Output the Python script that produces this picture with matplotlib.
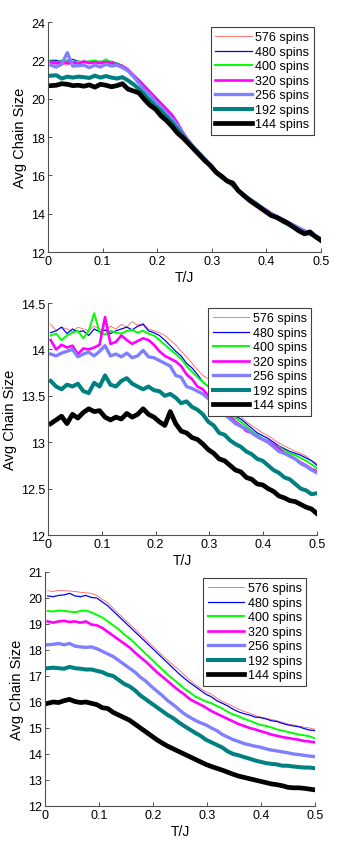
import numpy as np
import matplotlib
matplotlib.use('Agg')
import matplotlib.pyplot as plt

plt.rcParams['font.family'] = ['Liberation Sans', 'DejaVu Sans']

# temperature grid (T/J)
t = np.linspace(0.005, 0.5, 50)

labels = ['576 spins', '480 spins', '400 spins', '320 spins',
          '256 spins', '192 spins', '144 spins']

# ---- panel 1 ----
p1_576 = [21.85, 21.8, 21.8, 21.75, 21.85, 21.8, 21.85, 21.9, 21.85, 21.9,
          21.95, 21.9, 21.85, 21.72, 21.5, 21.2, 20.95, 20.65, 20.35, 20.05,
          19.75, 19.45, 19.15, 18.7, 18.2, 17.8, 17.45, 17.15, 16.85, 16.5,
          16.2, 15.95, 15.7, 15.45, 15.2, 14.95, 14.8, 14.6, 14.4, 14.2,
          14.0, 13.85, 13.7, 13.55, 13.4, 13.25, 13.1, 13.0, 12.85, 12.7]
p1_480 = [22.0, 22.0, 21.95, 22.0, 22.05, 21.95, 21.9, 21.95, 21.9, 21.95,
          21.9, 21.95, 21.85, 21.72, 21.5, 21.2, 20.95, 20.65, 20.35, 20.05,
          19.75, 19.45, 19.15, 18.7, 18.2, 17.8, 17.45, 17.15, 16.85, 16.5,
          16.2, 15.95, 15.7, 15.45, 15.2, 14.95, 14.8, 14.6, 14.4, 14.2,
          14.0, 13.85, 13.7, 13.55, 13.4, 13.25, 13.1, 13.0, 12.85, 12.7]
p1_400 = [21.95, 21.9, 22.0, 21.95, 21.9, 21.95, 21.9, 21.95, 22.0, 21.9,
          22.05, 21.9, 21.85, 21.72, 21.5, 21.2, 20.97, 20.67, 20.37, 20.05,
          19.77, 19.45, 19.17, 18.72, 18.22, 17.82, 17.47, 17.17, 16.87, 16.52,
          16.22, 15.97, 15.72, 15.47, 15.25, 15.0, 14.82, 14.62, 14.42, 14.22,
          14.03, 13.88, 13.73, 13.57, 13.42, 13.27, 13.12, 13.02, 12.87, 12.72]
p1_320 = [21.9, 21.85, 21.92, 21.85, 21.9, 21.82, 21.95, 21.85, 21.9, 21.85,
          21.92, 21.85, 21.8, 21.7, 21.52, 21.22, 20.95, 20.65, 20.35, 20.05,
          19.75, 19.45, 19.15, 18.72, 18.22, 17.82, 17.45, 17.15, 16.85, 16.5,
          16.2, 15.95, 15.7, 15.45, 15.22, 14.97, 14.8, 14.6, 14.4, 14.22,
          14.02, 13.87, 13.72, 13.55, 13.42, 13.27, 13.12, 13.0, 12.85, 12.7]
p1_256 = [21.75, 21.65, 21.8, 22.4, 21.7, 21.72, 21.75, 21.62, 21.75, 21.65,
          21.8, 21.7, 21.75, 21.62, 21.45, 21.15, 20.8, 20.45, 20.2, 19.85,
          19.55, 19.25, 18.95, 18.6, 18.15, 17.8, 17.45, 17.15, 16.85, 16.5,
          16.2, 15.95, 15.72, 15.48, 15.22, 15.0, 14.78, 14.58, 14.38, 14.18,
          13.98, 13.85, 13.7, 13.55, 13.4, 13.25, 13.1, 12.98, 12.85, 12.7]
p1_192 = [21.2, 21.22, 21.05, 21.15, 21.1, 21.15, 21.12, 21.08, 21.2, 21.1,
          21.18, 21.1, 21.05, 21.12, 20.95, 20.75, 20.5, 20.2, 19.9, 19.6,
          19.35, 19.05, 18.75, 18.4, 18.05, 17.7, 17.4, 17.1, 16.8, 16.45,
          16.15, 15.9, 15.7, 15.5, 15.2, 14.95, 14.75, 14.55, 14.35, 14.1,
          13.9, 13.8, 13.6, 13.45, 13.3, 13.15, 13.0, 12.95, 12.8, 12.65]
p1_144 = [20.68, 20.7, 20.78, 20.75, 20.68, 20.7, 20.65, 20.72, 20.6, 20.75,
          20.7, 20.62, 20.68, 20.78, 20.5, 20.4, 20.3, 19.95, 19.65, 19.45,
          19.1, 18.85, 18.55, 18.2, 17.95, 17.65, 17.35, 17.05, 16.75, 16.5,
          16.15, 15.95, 15.7, 15.6, 15.2, 14.95, 14.7, 14.5, 14.3, 14.1,
          13.9, 13.8, 13.65, 13.5, 13.3, 13.1, 12.95, 13.05, 12.8, 12.6]

# ---- panel 2 ----
p2_576 = [14.27, 14.2, 14.24, 14.22, 14.19, 14.24, 14.22, 14.2, 14.25, 14.22,
          14.2, 14.25, 14.22, 14.27, 14.24, 14.3, 14.26, 14.28, 14.22, 14.2,
          14.18, 14.15, 14.1, 14.05, 13.98, 13.92, 13.85, 13.78, 13.72, 13.68,
          13.58, 13.5, 13.45, 13.38, 13.32, 13.28, 13.22, 13.18, 13.14, 13.1,
          13.07, 13.03, 12.99, 12.96, 12.93, 12.9, 12.88, 12.85, 12.8, 12.77]
p2_480 = [14.18, 14.2, 14.24, 14.17, 14.22, 14.19, 14.2, 14.15, 14.22, 14.19,
          14.21, 14.17, 14.2, 14.22, 14.24, 14.21, 14.25, 14.27, 14.2, 14.18,
          14.15, 14.1, 14.04, 13.98, 13.93, 13.85, 13.8, 13.73, 13.65, 13.6,
          13.55, 13.47, 13.42, 13.35, 13.28, 13.25, 13.2, 13.15, 13.1, 13.07,
          13.04, 13.0, 12.96, 12.93, 12.9, 12.88, 12.86, 12.83, 12.8, 12.75]
p2_400 = [14.15, 14.17, 14.1, 14.15, 14.18, 14.2, 14.12, 14.2, 14.39, 14.18,
          14.16, 14.2, 14.18, 14.17, 14.2, 14.21, 14.18, 14.2, 14.17, 14.15,
          14.1, 14.05, 14.0, 13.95, 13.9, 13.82, 13.76, 13.7, 13.65, 13.6,
          13.52, 13.45, 13.4, 13.33, 13.26, 13.22, 13.17, 13.12, 13.08, 13.04,
          13.01, 12.97, 12.95, 12.91, 12.88, 12.86, 12.83, 12.8, 12.76, 12.72]
p2_320 = [14.1, 14.0, 14.05, 14.02, 14.04, 13.95, 14.01, 14.0, 14.02, 14.05,
          14.35, 14.06, 14.08, 14.15, 14.1, 14.06, 14.09, 14.12, 14.1, 14.05,
          13.98, 13.93, 13.9, 13.87, 13.82, 13.73, 13.68, 13.6, 13.57, 13.5,
          13.45, 13.4, 13.35, 13.28, 13.22, 13.18, 13.12, 13.1, 13.06, 13.03,
          13.01, 12.97, 12.93, 12.88, 12.85, 12.82, 12.78, 12.75, 12.71, 12.69]
p2_256 = [13.95, 13.93, 13.96, 13.98, 14.0, 13.92, 13.95, 13.97, 13.93, 13.98,
          14.04, 13.93, 13.95, 13.92, 13.96, 13.91, 13.93, 13.99, 13.92, 13.91,
          13.88, 13.85, 13.82, 13.72, 13.7, 13.6, 13.58, 13.55, 13.52, 13.47,
          13.42, 13.36, 13.3, 13.25, 13.2, 13.17, 13.14, 13.1, 13.06, 13.03,
          13.0, 12.95, 12.9, 12.88, 12.85, 12.82, 12.77, 12.74, 12.7, 12.67]
p2_192 = [13.66, 13.6, 13.57, 13.62, 13.6, 13.63, 13.55, 13.53, 13.64, 13.6,
          13.72, 13.62, 13.6, 13.66, 13.69, 13.63, 13.6, 13.57, 13.6, 13.56,
          13.55, 13.5, 13.52, 13.48, 13.42, 13.44, 13.38, 13.35, 13.3, 13.22,
          13.18, 13.1, 13.08, 13.02, 12.98, 12.95, 12.9, 12.87, 12.82, 12.8,
          12.75, 12.7, 12.67, 12.62, 12.6, 12.55, 12.5, 12.48, 12.44, 12.45]
p2_144 = [13.2, 13.24, 13.28, 13.2, 13.3, 13.26, 13.32, 13.36, 13.33, 13.34,
          13.27, 13.24, 13.27, 13.25, 13.31, 13.27, 13.3, 13.36, 13.3, 13.27,
          13.22, 13.18, 13.33, 13.2, 13.12, 13.1, 13.05, 13.03, 12.98, 12.92,
          12.88, 12.82, 12.8, 12.75, 12.7, 12.68, 12.62, 12.6, 12.55, 12.54,
          12.5, 12.47, 12.42, 12.4, 12.37, 12.36, 12.33, 12.3, 12.28, 12.23]

# ---- panel 3 ----
p3_576 = [20.28, 20.25, 20.3, 20.28, 20.27, 20.25, 20.22, 20.2, 20.18, 20.1,
          19.95, 19.82, 19.6, 19.4, 19.2, 19.0, 18.8, 18.6, 18.4, 18.2,
          18.0, 17.8, 17.6, 17.42, 17.25, 17.05, 16.85, 16.68, 16.52, 16.4,
          16.3, 16.15, 16.02, 15.93, 15.83, 15.72, 15.64, 15.57, 15.48, 15.42,
          15.38, 15.33, 15.28, 15.22, 15.15, 15.12, 15.07, 15.03, 15.0, 14.95]
p3_480 = [20.08, 20.05, 20.1, 20.12, 20.18, 20.08, 20.05, 20.1, 20.02, 20.0,
          19.85, 19.7, 19.5, 19.3, 19.1, 18.9, 18.7, 18.5, 18.3, 18.1,
          17.9, 17.7, 17.5, 17.3, 17.1, 16.92, 16.75, 16.6, 16.45, 16.3,
          16.2, 16.05, 15.95, 15.85, 15.72, 15.62, 15.55, 15.5, 15.42, 15.4,
          15.35, 15.28, 15.25, 15.18, 15.12, 15.08, 15.05, 14.98, 14.92, 14.9]
p3_400 = [19.5, 19.48, 19.52, 19.5, 19.48, 19.45, 19.5, 19.52, 19.45, 19.35,
          19.25, 19.1, 18.95, 18.8, 18.6, 18.45, 18.25, 18.05, 17.85, 17.65,
          17.45, 17.25, 17.05, 16.88, 16.7, 16.52, 16.38, 16.22, 16.12, 16.02,
          15.95, 15.85, 15.75, 15.62, 15.52, 15.45, 15.35, 15.28, 15.2, 15.12,
          15.08, 15.02, 14.95, 14.9, 14.85, 14.8, 14.75, 14.72, 14.68, 14.6]
p3_320 = [19.1, 19.05, 19.1, 19.12, 19.08, 19.1, 19.05, 19.1, 18.98, 18.95,
          18.85, 18.7, 18.55, 18.4, 18.25, 18.1, 17.9, 17.72, 17.55, 17.35,
          17.15, 16.98, 16.8, 16.62, 16.45, 16.3, 16.12, 16.0, 15.9, 15.78,
          15.65, 15.55, 15.45, 15.35, 15.25, 15.15, 15.08, 15.0, 14.95, 14.88,
          14.82, 14.75, 14.7, 14.65, 14.62, 14.58, 14.55, 14.5, 14.48, 14.45]
p3_256 = [18.2, 18.22, 18.25, 18.2, 18.25, 18.15, 18.12, 18.1, 18.12, 18.05,
          17.95, 17.85, 17.75, 17.6, 17.45, 17.3, 17.15, 16.95, 16.8, 16.6,
          16.42, 16.25, 16.05, 15.9, 15.72, 15.55, 15.42, 15.3, 15.2, 15.12,
          15.0, 14.9, 14.75, 14.65, 14.55, 14.48, 14.4, 14.35, 14.3, 14.26,
          14.2, 14.15, 14.12, 14.08, 14.05, 14.0, 13.98, 13.95, 13.92, 13.9]
p3_192 = [17.3, 17.32, 17.3, 17.28, 17.35, 17.3, 17.28, 17.25, 17.25, 17.2,
          17.15, 17.05, 17.0, 16.85, 16.7, 16.6, 16.45, 16.25, 16.1, 15.95,
          15.8, 15.65, 15.5, 15.38, 15.22, 15.08, 14.95, 14.82, 14.7, 14.55,
          14.45, 14.35, 14.25, 14.1, 14.0, 13.95, 13.88, 13.82, 13.75, 13.7,
          13.65, 13.62, 13.6, 13.55, 13.55, 13.52, 13.5, 13.48, 13.48, 13.45]
p3_144 = [15.95, 16.0, 15.98, 16.05, 16.1, 16.02, 15.98, 16.0, 15.95, 15.9,
          15.78, 15.75, 15.6, 15.5, 15.4, 15.3, 15.15, 15.0, 14.85, 14.7,
          14.55, 14.42, 14.3, 14.2, 14.1, 14.0, 13.9, 13.8, 13.7, 13.6,
          13.52, 13.45, 13.38, 13.3, 13.22, 13.15, 13.1, 13.05, 13.0, 12.95,
          12.9, 12.85, 12.82, 12.78, 12.72, 12.7, 12.7, 12.68, 12.65, 12.62]

colors = ['#ff6060', '#0000ff', '#00ff00', '#ff00ff', '#8080ff', '#008080', 'black']
widths = [0.6, 0.9, 1.4, 1.9, 2.4, 2.9, 3.4]

panels = [
    ([p1_576, p1_480, p1_400, p1_320, p1_256, p1_192, p1_144],
     [48, 23, 321, 253], (12, 24), np.arange(12, 25, 2), (0.974, 0.978)),
    ([p2_576, p2_480, p2_400, p2_320, p2_256, p2_192, p2_144],
     [48, 304, 317, 536], (12, 14.5), np.arange(12, 14.51, 0.5), (0.978, 0.978)),
    ([p3_576, p3_480, p3_400, p3_320, p3_256, p3_192, p3_144],
     [45, 573, 315, 807], (12, 21), np.arange(12, 22, 1), (0.967, 0.974)),
]

W, H = 354, 845
fig = plt.figure(figsize=(W / 100, H / 100), dpi=100)

for series, (x0, y0, x1, y1), ylim, yticks, anchor in panels:
    ax = fig.add_axes([x0 / W, 1 - y1 / H, (x1 - x0) / W, (y1 - y0) / H])
    for ys, c, lw, lab in zip(series, colors, widths, labels):
        ax.plot(t, ys, color=c, lw=lw, label=lab)
    ax.set_xlim(0, 0.5)
    ax.set_ylim(*ylim)
    ax.set_xticks([0, 0.1, 0.2, 0.3, 0.4, 0.5])
    ax.set_xticklabels(['0', '0.1', '0.2', '0.3', '0.4', '0.5'])
    ax.set_yticks(yticks)
    ax.set_yticklabels(['%g' % v for v in yticks])
    for s in ['top', 'right']:
        ax.spines[s].set_visible(False)
    for s in ['left', 'bottom']:
        ax.spines[s].set_color('#505050')
        ax.spines[s].set_linewidth(0.8)
    ax.tick_params(direction='in', length=3, width=0.7, color='#505050',
                   labelsize=9, pad=2)
    ax.set_xlabel('T/J', fontsize=10, labelpad=2)
    ax.set_ylabel('Avg Chain Size', fontsize=10.5, labelpad=3)
    leg = ax.legend(loc='upper right', bbox_to_anchor=anchor, borderaxespad=0,
                    fontsize=9, handlelength=2.9, handletextpad=0.3,
                    labelspacing=0.2, borderpad=0.35, fancybox=False,
                    framealpha=1, edgecolor='#404040')
    leg.get_frame().set_linewidth(0.8)

fig.savefig('out.png', dpi=100, facecolor='white')
